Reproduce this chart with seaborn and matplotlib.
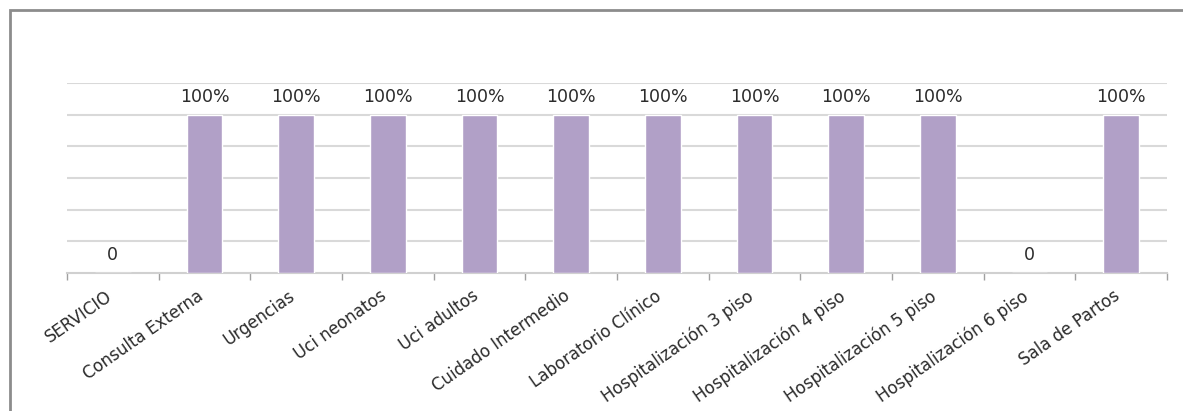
import matplotlib
matplotlib.use("Agg")
import matplotlib.pyplot as plt
import matplotlib.transforms as mtransforms
import seaborn as sns
import pandas as pd
from matplotlib.patches import Rectangle

categories = ["SERVICIO", "Consulta Externa", "Urgencias", "Uci neonatos", "Uci adultos",
              "Cuidado Intermedio", "Laboratorio Clínico", "Hospitalización 3 piso",
              "Hospitalización 4 piso", "Hospitalización 5 piso", "Hospitalización 6 piso",
              "Sala de Partos"]
values = [0, 1, 1, 1, 1, 1, 1, 1, 1, 1, 0, 1]
value_labels = ["0", "100%", "100%", "100%", "100%", "100%", "100%", "100%", "100%", "100%", "0", "100%"]

sns.set_theme(style="white")
plt.rcParams['font.family'] = ['DejaVu Sans']

df = pd.DataFrame({"cat": categories, "val": values})

fig = plt.figure(figsize=(11.83, 4.11), dpi=100)
ax = fig.add_axes([67/1183, 1 - 273/411, 1100/1183, 190/411])

sns.barplot(data=df, x="cat", y="val", color="#B1A0C7", saturation=1, width=0.39, ax=ax, zorder=3)

ax.set_ylim(0, 1.2)
ax.set_xlim(-0.5, len(categories) - 0.5)
ax.set_yticks([0.2, 0.4, 0.6, 0.8, 1.0, 1.2])
ax.set_yticklabels([])
ax.yaxis.grid(True, color="#D9D9D9", linewidth=1.5, zorder=0)
ax.tick_params(axis="y", length=0)
for s in ["top", "right", "left"]:
    ax.spines[s].set_visible(False)
ax.spines["bottom"].set_color("#D0D0D0")
ax.spines["bottom"].set_linewidth(1.5)
ax.set_xlabel("")
ax.set_ylabel("")

ax.set_xticks(range(len(categories)))
ax.set_xticklabels(categories, rotation=35, ha="right", rotation_mode="anchor",
                   fontsize=12, color="#2b2b2b")
ax.tick_params(axis="x", which="major", length=0, pad=10)
shift = mtransforms.ScaledTranslation(-8/100, 0, fig.dpi_scale_trans)
for lbl in ax.get_xticklabels():
    lbl.set_transform(lbl.get_transform() + shift)
ax.set_xticks([i - 0.5 for i in range(len(categories) + 1)], minor=True)
ax.tick_params(axis="x", which="minor", length=5, width=1, color="#A0A0A0", bottom=True)

for i, (v, lab) in enumerate(zip(values, value_labels)):
    ax.annotate(lab, (i, v), xytext=(0, 6.5), textcoords="offset points",
                ha="center", va="bottom", fontsize=12.5, color="#2b2b2b")

fig.patches.append(Rectangle((10/1183, -0.05), 1.1, 1 - 10/411 + 0.05, transform=fig.transFigure,
                             fill=False, edgecolor="#8C8C8C", linewidth=2, figure=fig))

fig.savefig("out.png", dpi=100)
